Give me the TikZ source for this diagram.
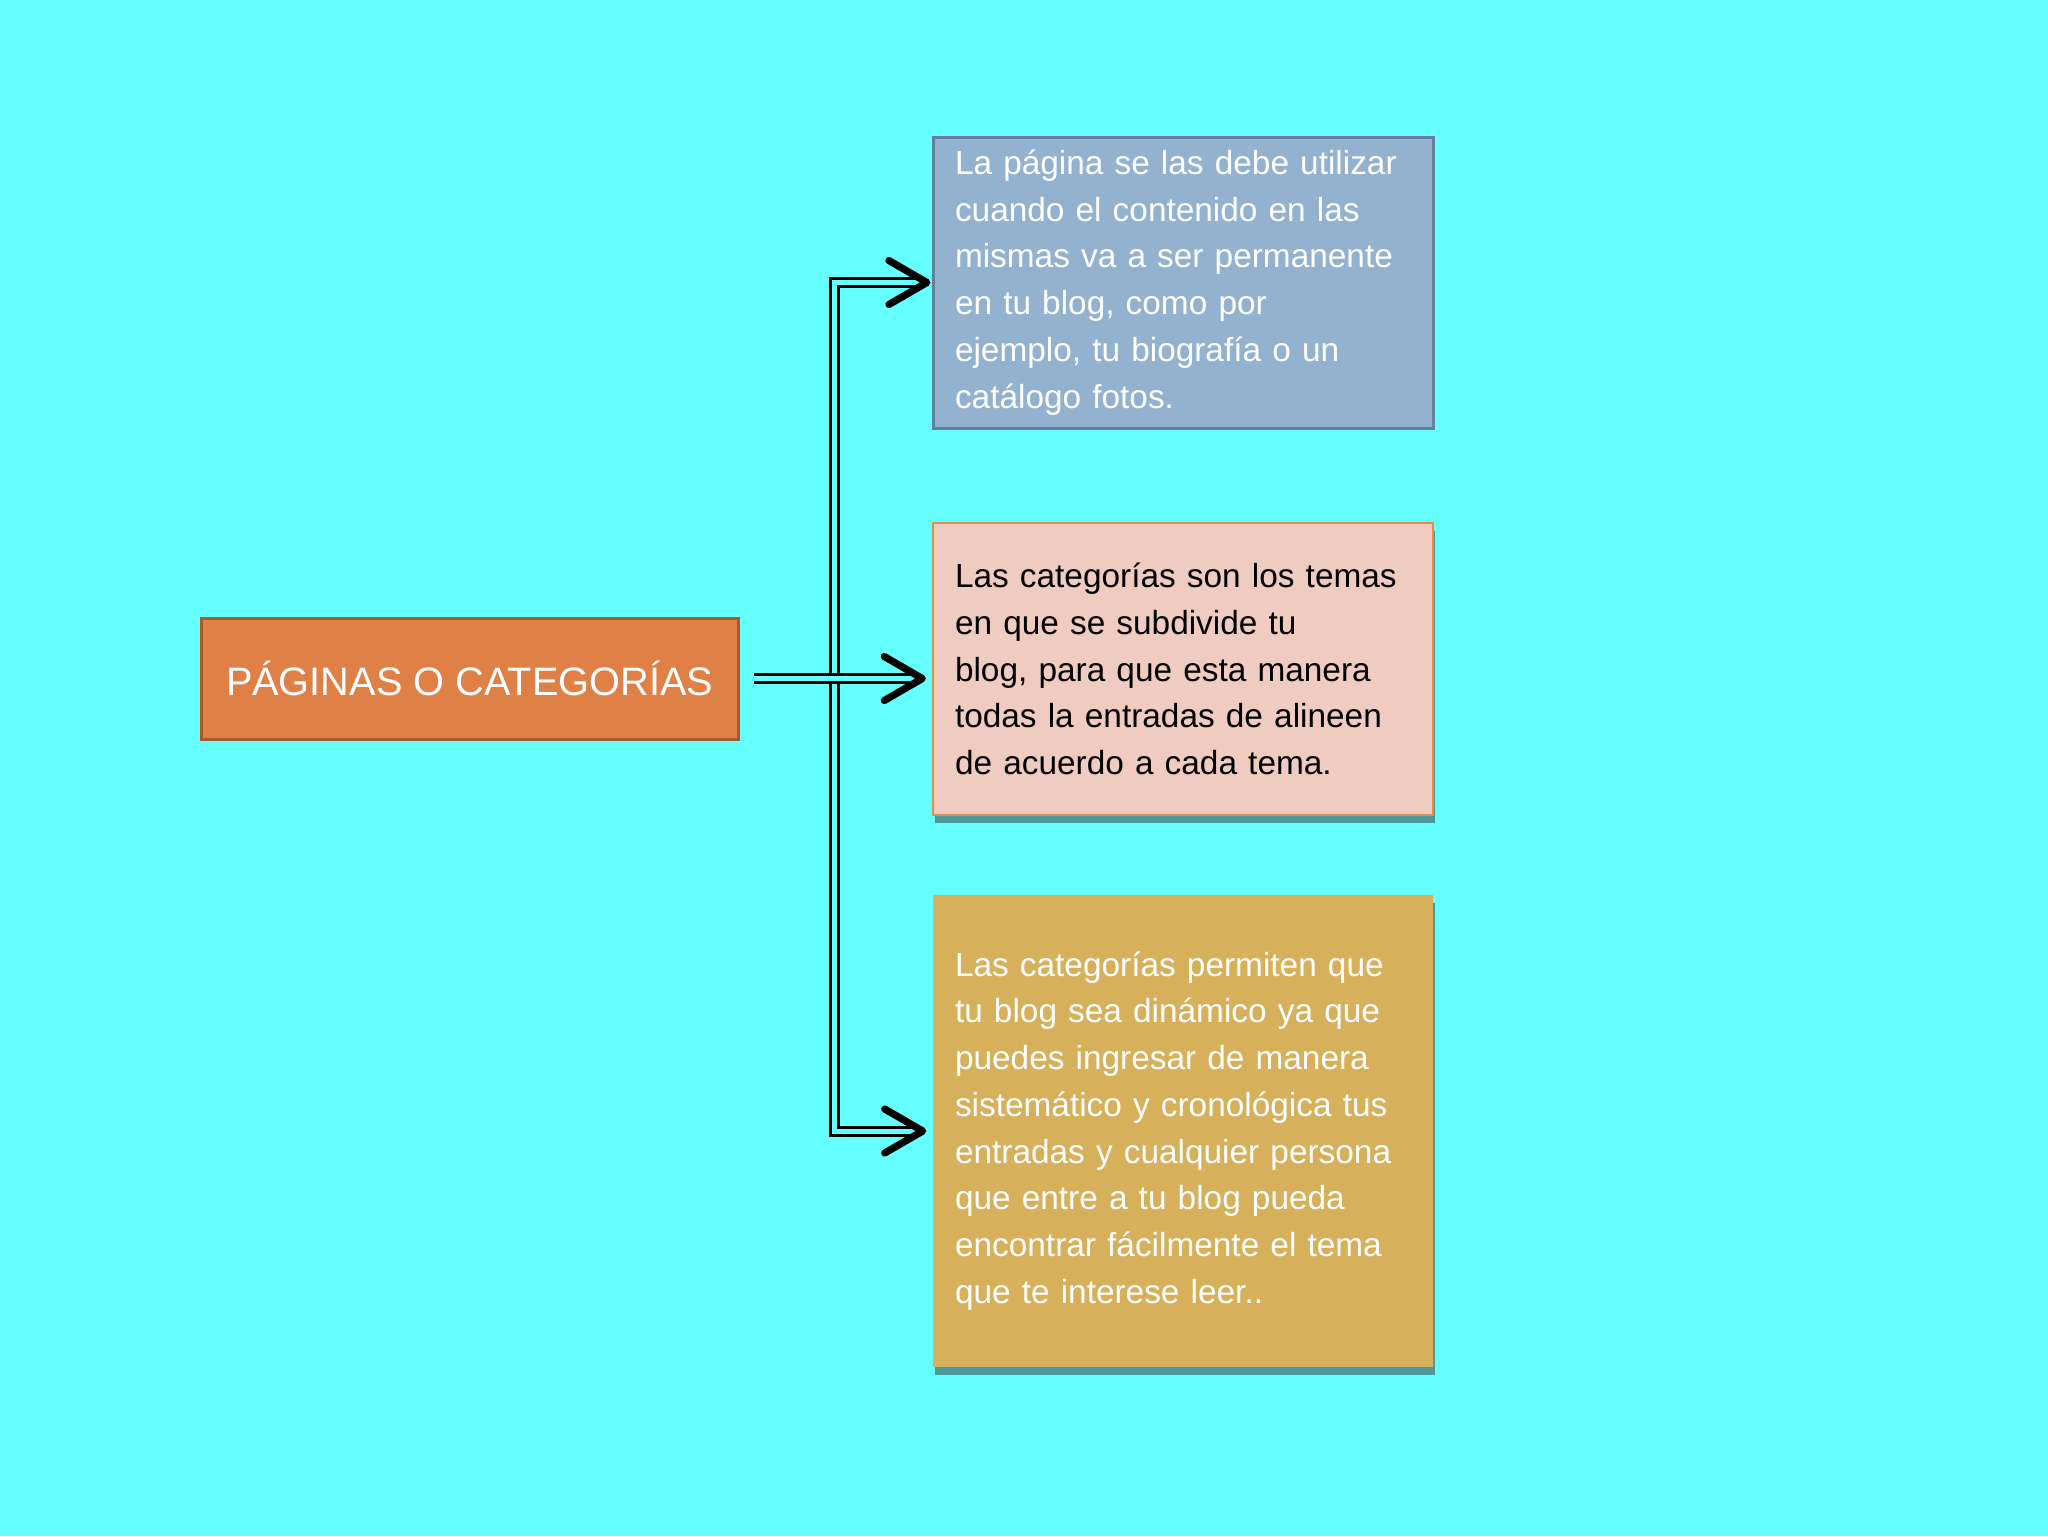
\documentclass[tikz,border=0pt]{standalone}
\usepackage{fontspec}
\setmainfont{Liberation Sans}
\usetikzlibrary{arrows.meta,calc,shadows}
\definecolor{bg}{HTML}{66FFFF}
\definecolor{mainfill}{HTML}{DF8147}
\definecolor{maindraw}{HTML}{A65A30}
\definecolor{bluefill}{HTML}{92B2CF}
\definecolor{bluedraw}{HTML}{62809D}
\definecolor{pinkfill}{HTML}{EFCBC0}
\definecolor{pinkdraw}{HTML}{E58B52}
\definecolor{goldfill}{HTML}{D7B05C}
\tikzset{
  infobox/.style={rectangle, text width=4.56cm, inner xsep=2.2mm, inner ysep=0pt,
    align=left, font=\fontsize{9.5pt}{13.3pt}\selectfont},
  boxshadow/.style={drop shadow={shadow xshift=0.15mm, shadow yshift=-0.8mm, opacity=0.5, fill=black!80}},
  dbl/.style={draw=black, line width=0.3mm, double=bg, double distance=0.5mm},
  tipst/.style={draw=black, line width=0.72mm, -{Straight Barb[length=3.8mm,width=4.4mm,round]}}
}
\begin{document}
\begin{tikzpicture}[x=0.1mm,y=-0.1mm]
\fill[bg] (0,0) rectangle (2048,1536);
\useasboundingbox (0,0) rectangle (2048,1536);

\node[rectangle, fill=mainfill, draw=maindraw, line width=0.3mm,
  minimum width=5.37cm, minimum height=1.21cm, text=white,
  font=\fontsize{11.3pt}{13pt}\selectfont] (main) at (469.5,678.5) {PÁGINAS O CATEGORÍAS};

\node[infobox, fill=bluefill, draw=bluedraw, line width=0.3mm, text=white,
  minimum height=2.91cm] (blue) at (1183,282.5)
  {La página se las debe utilizar\\cuando el contenido en las\\mismas va a ser permanente\\en tu blog, como por\\ejemplo, tu biografía o un\\catálogo fotos.};

\node[infobox, boxshadow, fill=pinkfill, draw=pinkdraw, line width=0.22mm, text=black,
  minimum height=2.92cm] (pink) at (1183,669)
  {Las categorías son los temas\\en que se subdivide tu\\blog, para que esta manera\\todas la entradas de alineen\\de acuerdo a cada tema.};

\node[infobox, boxshadow, fill=goldfill, text=white,
  minimum height=4.72cm] (gold) at (1183,1131)
  {Las categorías permiten que\\tu blog sea dinámico ya que\\puedes ingresar de manera\\sistemático y cronológica tus\\entradas y cualquier persona\\que entre a tu blog pueda\\encontrar fácilmente el tema\\que te interese leer..};

% bus connector
\draw[dbl, shorten <=1.4mm, shorten >=1.8mm] (blue.west) -- ++(-97,0) |- (gold.west);
\draw[dbl, shorten <=1.4mm, shorten >=1.8mm] (main.east) -- (main.east -| pink.west);

% arrow tips
\draw[tipst] ($(blue.west)+(-3,0)$) -- ($(blue.west)+(-1,0)$);
\draw[tipst] ($(main.east -| pink.west)+(-8,0)$) -- ($(main.east -| pink.west)+(-6,0)$);
\draw[tipst] ($(gold.west)+(-8,0)$) -- ($(gold.west)+(-6,0)$);
\end{tikzpicture}
\end{document}
